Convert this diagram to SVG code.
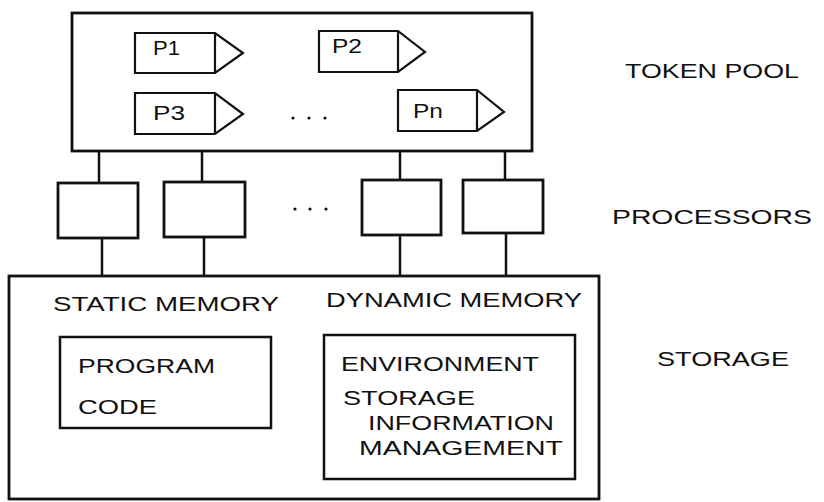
<svg xmlns="http://www.w3.org/2000/svg" width="824" height="502" viewBox="0 0 824 502">
  <style>
    .box { fill: #fff; stroke: #111; stroke-width: 2.8; stroke-linejoin: miter; }
    .inner { fill: #fff; stroke: #111; stroke-width: 2.5; }
    .tok { fill: #fff; stroke: #111; stroke-width: 2.2; stroke-linejoin: miter; }
    .wire { stroke: #111; stroke-width: 2.5; fill: none; }
    .lbl { font-family: "Liberation Sans", Arial, sans-serif; font-size: 20px; fill: #111; }
    .dot { fill: #111; }
  </style>
  <rect width="824" height="502" fill="#fff"/>

  <!-- token pool -->
  <g id="token-pool">
    <rect class="box" x="72" y="13" width="460" height="138"/>
    <g id="token-p1">
      <path class="tok" d="M135 33 H215 L243 53 L215 73 H135 Z M215 33 V73"/>
      <text class="lbl" x="153" y="55" textLength="27" lengthAdjust="spacingAndGlyphs">P1</text>
    </g>
    <g id="token-p2">
      <path class="tok" d="M319 31 H398 L425 52 L398 72 H319 Z M398 31 V72"/>
      <text class="lbl" x="332" y="53" textLength="30" lengthAdjust="spacingAndGlyphs">P2</text>
    </g>
    <g id="token-p3">
      <path class="tok" d="M135 93 H215 L243 114 L215 134 H135 Z M215 93 V134"/>
      <text class="lbl" x="153" y="120" textLength="32" lengthAdjust="spacingAndGlyphs">P3</text>
    </g>
    <g id="token-pn">
      <path class="tok" d="M398 90 H477 L504 112 L477 131 H398 Z M477 90 V131"/>
      <text class="lbl" x="413" y="118" textLength="30" lengthAdjust="spacingAndGlyphs">Pn</text>
    </g>
    <circle class="dot" cx="293" cy="118" r="1.6"/>
    <circle class="dot" cx="309" cy="118" r="1.6"/>
    <circle class="dot" cx="325" cy="118" r="1.6"/>
  </g>

  <!-- connectors -->
  <g id="connectors">
    <line class="wire" x1="99" y1="151" x2="99" y2="183"/>
    <line class="wire" x1="102" y1="238" x2="102" y2="276"/>
    <line class="wire" x1="202" y1="151" x2="202" y2="182"/>
    <line class="wire" x1="204" y1="237" x2="204" y2="276"/>
    <line class="wire" x1="400" y1="151" x2="400" y2="180"/>
    <line class="wire" x1="400" y1="235" x2="400" y2="276"/>
    <line class="wire" x1="505" y1="151" x2="505" y2="180"/>
    <line class="wire" x1="506" y1="233" x2="506" y2="276"/>
  </g>

  <!-- processors -->
  <g id="proc-1"><rect class="box" x="58" y="183" width="80" height="55"/></g>
  <g id="proc-2"><rect class="box" x="164" y="182" width="81" height="55"/></g>
  <g id="proc-3"><rect class="box" x="362" y="180" width="79" height="55"/></g>
  <g id="proc-4"><rect class="box" x="463" y="180" width="80" height="53"/></g>
  <circle class="dot" cx="295" cy="209" r="1.6"/>
  <circle class="dot" cx="310" cy="209" r="1.6"/>
  <circle class="dot" cx="326" cy="209" r="1.6"/>

  <!-- storage -->
  <g id="storage">
    <rect class="box" x="9" y="276" width="590" height="223"/>
    <text class="lbl" x="53" y="311" font-size="21" textLength="226" lengthAdjust="spacingAndGlyphs">STATIC MEMORY</text>
    <text class="lbl" x="326" y="307" font-size="21" textLength="256" lengthAdjust="spacingAndGlyphs">DYNAMIC MEMORY</text>
    <g id="program-code">
      <rect class="inner" x="60" y="337" width="211" height="91"/>
      <text class="lbl" x="78" y="373" textLength="137" lengthAdjust="spacingAndGlyphs">PROGRAM</text>
      <text class="lbl" x="78" y="414" textLength="79" lengthAdjust="spacingAndGlyphs">CODE</text>
    </g>
    <g id="environment-storage">
      <rect class="inner" x="324" y="335" width="251" height="144"/>
      <text class="lbl" x="341" y="371" textLength="198" lengthAdjust="spacingAndGlyphs">ENVIRONMENT</text>
      <text class="lbl" x="343" y="405" textLength="132" lengthAdjust="spacingAndGlyphs">STORAGE</text>
      <text class="lbl" x="368" y="430" textLength="186" lengthAdjust="spacingAndGlyphs">INFORMATION</text>
      <text class="lbl" x="359" y="455" textLength="204" lengthAdjust="spacingAndGlyphs">MANAGEMENT</text>
    </g>
  </g>

  <!-- layer labels -->
  <text class="lbl" x="625" y="78" font-size="18" textLength="174" lengthAdjust="spacingAndGlyphs">TOKEN POOL</text>
  <text class="lbl" x="612" y="224" font-size="19.5" textLength="200" lengthAdjust="spacingAndGlyphs">PROCESSORS</text>
  <text class="lbl" x="657" y="366" font-size="21" textLength="132" lengthAdjust="spacingAndGlyphs">STORAGE</text>
</svg>
